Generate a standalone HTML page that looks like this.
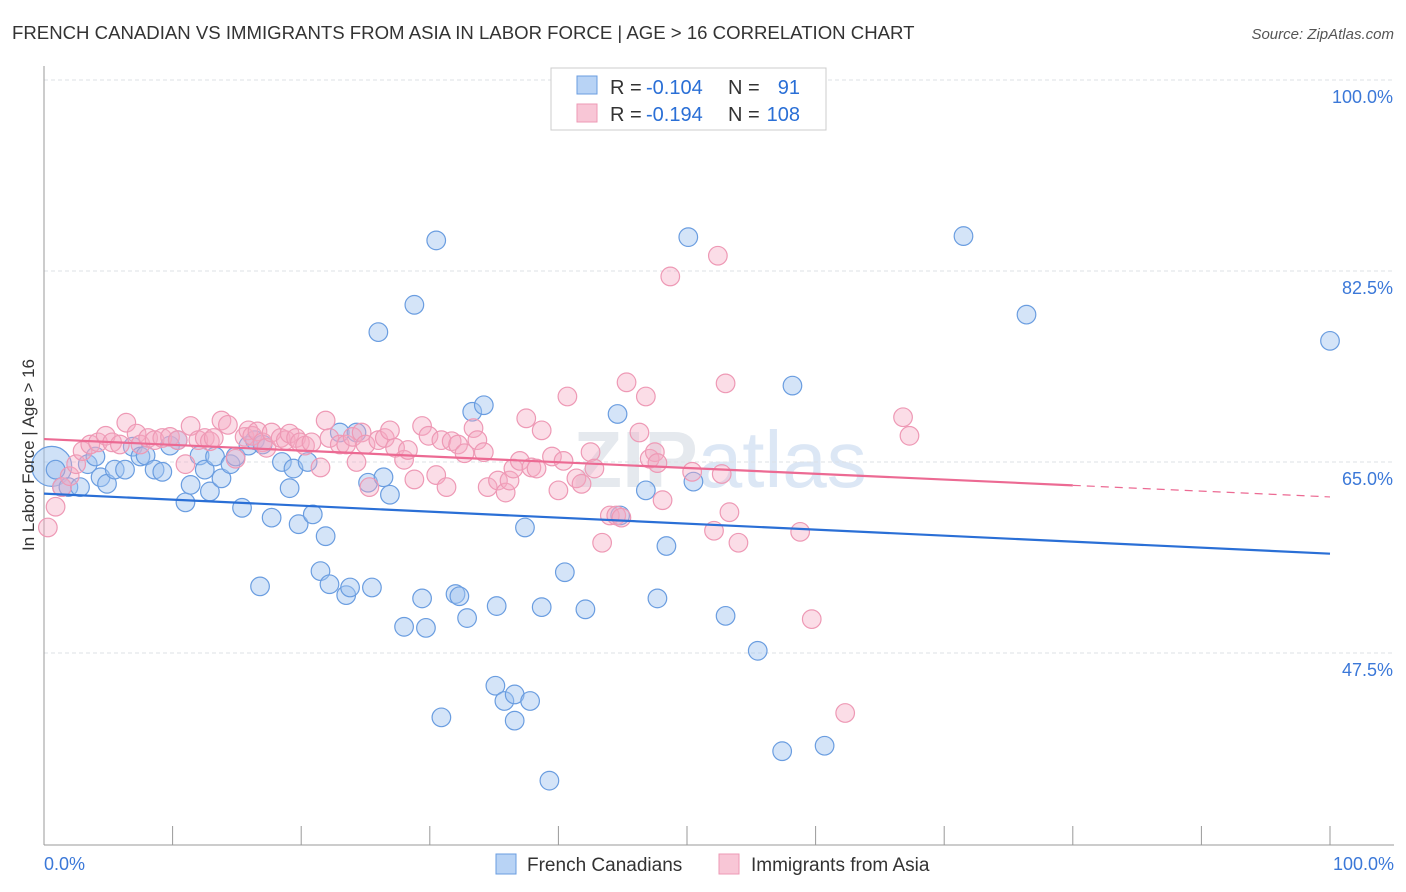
<!DOCTYPE html>
<html><head><meta charset="utf-8"><style>
body{margin:0;background:#fff;font-family:"Liberation Sans",sans-serif;}
svg{display:block}
</style></head><body>
<svg id="chart" width="1406" height="892">
<text x="12" y="39" font-size="18.6" fill="#333">FRENCH CANADIAN VS IMMIGRANTS FROM ASIA IN LABOR FORCE | AGE &gt; 16 CORRELATION CHART</text>
<text x="1394" y="39" font-size="15" fill="#555" font-style="italic" text-anchor="end">Source: ZipAtlas.com</text>
<text x="720" y="487" font-size="80" fill="#e5e9ee" text-anchor="middle" font-weight="bold">ZIP<tspan fill="#dce7f5" font-weight="normal">atlas</tspan></text>
<g id="grid"></g><g id="marks"></g><g id="lines"></g>
<text transform="translate(34,455) rotate(-90)" font-size="17" fill="#333" text-anchor="middle">In Labor Force | Age &gt; 16</text>
<g>
<rect x="551" y="68" width="275" height="62" fill="#fff" stroke="#ccc"/>
<rect x="577" y="76" width="20" height="18" fill="#b8d3f5" stroke="#6a9de0"/>
<rect x="577" y="104" width="20" height="18" fill="#f8c6d6" stroke="#ee99b5"/>
<g font-size="20" fill="#333">
<text x="610" y="94">R =</text>
<text x="646" y="94" fill="#2a6fd6">-0.104</text>
<text x="728" y="94">N =</text>
<text x="800" y="94" fill="#2a6fd6" text-anchor="end">91</text>
<text x="610" y="121">R =</text>
<text x="646" y="121" fill="#2a6fd6">-0.194</text>
<text x="728" y="121">N =</text>
<text x="800" y="121" fill="#2a6fd6" text-anchor="end">108</text>
</g>
</g>
<g>
<rect x="496" y="854" width="20" height="20" fill="#b8d3f5" stroke="#6a9de0"/>
<text x="527" y="871" font-size="19" fill="#333">French Canadians</text>
<rect x="719" y="854" width="20" height="20" fill="#f8c6d6" stroke="#ee99b5"/>
<text x="751" y="871" font-size="19" fill="#333">Immigrants from Asia</text>
</g>
<text x="44" y="870" font-size="18" fill="#3b78d8">0.0%</text>
<text x="1394" y="870" font-size="18" fill="#3b78d8" text-anchor="end">100.0%</text>
</svg>
<script>
const yTicks=[100,82.5,65,47.5];
const yTickLabels=["100.0%","82.5%","65.0%","47.5%"];
const blueX=[0.9,1.4,1.9,2.8,3.4,4.0,4.4,4.9,5.5,6.3,6.9,7.5,7.9,8.6,9.2,9.8,10.4,11.0,11.4,12.1,12.5,12.9,13.3,13.8,14.5,14.9,15.4,15.9,16.4,17.0,16.8,17.7,18.5,19.1,19.4,19.8,20.5,20.9,21.5,21.9,22.2,23.0,23.5,23.8,24.3,25.2,25.5,26.4,26.9,26.0,28.0,28.8,29.4,29.7,30.5,30.9,32.0,32.3,32.9,33.3,34.2,35.1,35.2,35.8,36.6,36.6,37.8,37.4,38.7,39.3,40.5,42.1,44.6,44.8,46.8,47.7,48.4,50.1,50.5,53.0,55.5,57.4,58.2,60.7,71.5,76.4,100];
const blueY=[64.3,62.7,62.7,62.7,64.8,65.5,63.6,63.0,64.3,64.3,66.4,65.5,65.6,64.3,64.1,66.5,67.0,61.3,62.9,65.6,64.3,62.3,65.5,63.5,64.8,65.5,60.8,66.5,67.0,66.6,53.6,59.9,65.0,62.6,64.4,59.3,65.0,60.2,55.0,58.2,53.8,67.7,52.8,53.5,67.7,63.1,53.5,63.6,62.0,76.9,49.9,79.4,52.5,49.8,85.3,41.6,52.9,52.7,50.7,69.6,70.2,44.5,51.8,43.1,43.7,41.3,43.1,59.0,51.7,35.8,54.9,51.5,69.4,60.1,62.4,52.5,57.3,85.6,63.2,50.9,47.7,38.5,72.0,39.0,85.7,78.5,76.1];
const pinkX=[0.3,0.9,1.4,2.0,2.5,3.0,3.6,4.2,4.8,5.3,5.9,6.4,7.2,7.5,8.1,8.6,9.2,9.8,10.4,11.0,11.4,12.0,12.5,12.9,13.2,13.8,14.3,14.9,15.6,15.9,16.2,16.6,17.0,17.3,17.7,18.4,18.8,19.1,19.6,19.9,20.3,20.8,21.5,21.9,22.2,23.0,23.5,24.0,24.3,24.7,25.0,25.3,26.0,26.5,26.9,27.3,28.0,28.3,28.8,29.4,29.9,30.5,30.9,31.3,31.7,32.2,32.7,33.4,33.7,34.2,34.5,35.3,35.9,36.2,36.5,37.0,37.5,37.9,38.3,38.7,39.5,40.0,40.4,40.7,41.4,41.8,42.5,42.8,43.4,44.0,44.5,44.9,45.3,46.3,46.8,47.1,47.5,47.7,48.1,48.7,50.4,52.1,52.4,52.7,53.0,53.3,54.0,58.8,59.7,62.3,66.8,67.3];
const pinkY=[59.0,60.9,62.7,63.7,64.8,66.0,66.6,66.8,67.4,66.8,66.6,68.6,67.6,66.6,67.2,67.0,67.2,67.3,67.0,64.8,68.3,67.0,67.2,66.9,67.2,68.8,68.4,65.3,67.3,67.9,67.4,67.8,66.8,66.3,67.7,67.2,67.0,67.6,67.2,66.8,66.5,66.8,64.5,68.8,67.2,66.6,66.6,67.3,65.0,67.7,66.6,62.7,67.0,67.2,67.9,66.3,65.2,66.1,63.4,68.3,67.4,63.8,67.0,62.7,66.9,66.6,65.8,68.1,67.0,65.9,62.7,63.3,62.2,63.3,64.4,65.1,69.0,64.5,64.4,67.9,65.5,62.4,65.1,71.0,63.5,63.0,65.9,64.4,57.6,60.1,60.1,59.9,72.3,67.7,71.0,65.3,65.9,64.9,61.5,82.0,64.1,58.7,83.9,63.9,72.2,60.4,57.6,58.6,50.6,42.0,69.1,67.4];
const blueTrend=[62.1,56.6];
const pinkTrend=[67.1,61.8];
const NS="http://www.w3.org/2000/svg";
const X0=44,X1=1330,YTOP=80,PX_PER=10.914;
function xs(v){return X0+(X1-X0)*v/100;}
function ys(v){return YTOP+(100-v)*PX_PER;}
function mk(tag,attrs,parent){const e=document.createElementNS(NS,tag);for(const k in attrs)e.setAttribute(k,attrs[k]);parent.appendChild(e);return e;}
const grid=document.getElementById('grid'),marks=document.getElementById('marks'),lines=document.getElementById('lines');
yTicks.forEach((t,i)=>{
 const l=mk('line',{x1:44,x2:1394,y1:ys(t),y2:ys(t),stroke:'#dde1e6','stroke-dasharray':'4,3'},grid);
 
 
 const tx=mk('text',{x:1393,y:ys(t)+23,'font-size':18,fill:'#3b78d8','text-anchor':'end'},grid);
 tx.textContent=yTickLabels[i];
 
 
});
const ax=mk('line',{x1:44,x2:44,y1:66,y2:845,stroke:'#999'},grid);


const bx=mk('line',{x1:44,x2:1394,y1:845,y2:845,stroke:'#999'},grid);


for(let i=0;i<=10;i++){
 const tk=mk('line',{x1:xs(i*10),x2:xs(i*10),y1:826,y2:845,stroke:'#999'},grid);
 
 
}
const big=mk('circle',{cx:xs(0.6),cy:ys(64.6),r:20,fill:'rgba(160,196,240,0.5)',stroke:'#6a9de0','stroke-width':1.2},marks);


blueX.forEach((v,i)=>{
 const c=mk('circle',{cx:xs(v),cy:ys(blueY[i]),r:9.3,fill:'rgba(160,196,240,0.45)',stroke:'#6a9de0','stroke-width':1.2},marks);
 
 
});
pinkX.forEach((v,i)=>{
 const c=mk('circle',{cx:xs(v),cy:ys(pinkY[i]),r:9.3,fill:'rgba(245,170,195,0.4)',stroke:'#ee99b5','stroke-width':1.2},marks);
 
 
});
const bl=mk('line',{x1:xs(0),y1:ys(blueTrend[0]),x2:xs(100),y2:ys(blueTrend[1]),stroke:'#2a6fd6','stroke-width':2.2},lines);


const pm=pinkTrend[0]+(pinkTrend[1]-pinkTrend[0])*0.8;
const pl=mk('line',{x1:xs(0),y1:ys(pinkTrend[0]),x2:xs(80),y2:ys(pm),stroke:'#ec6a93','stroke-width':2.2},lines);


const pd=mk('line',{x1:xs(80),y1:ys(pm),x2:xs(100),y2:ys(pinkTrend[1]),stroke:'#ec6a93','stroke-width':1.2,'stroke-dasharray':'8,6'},lines);


</script>
</body></html>
